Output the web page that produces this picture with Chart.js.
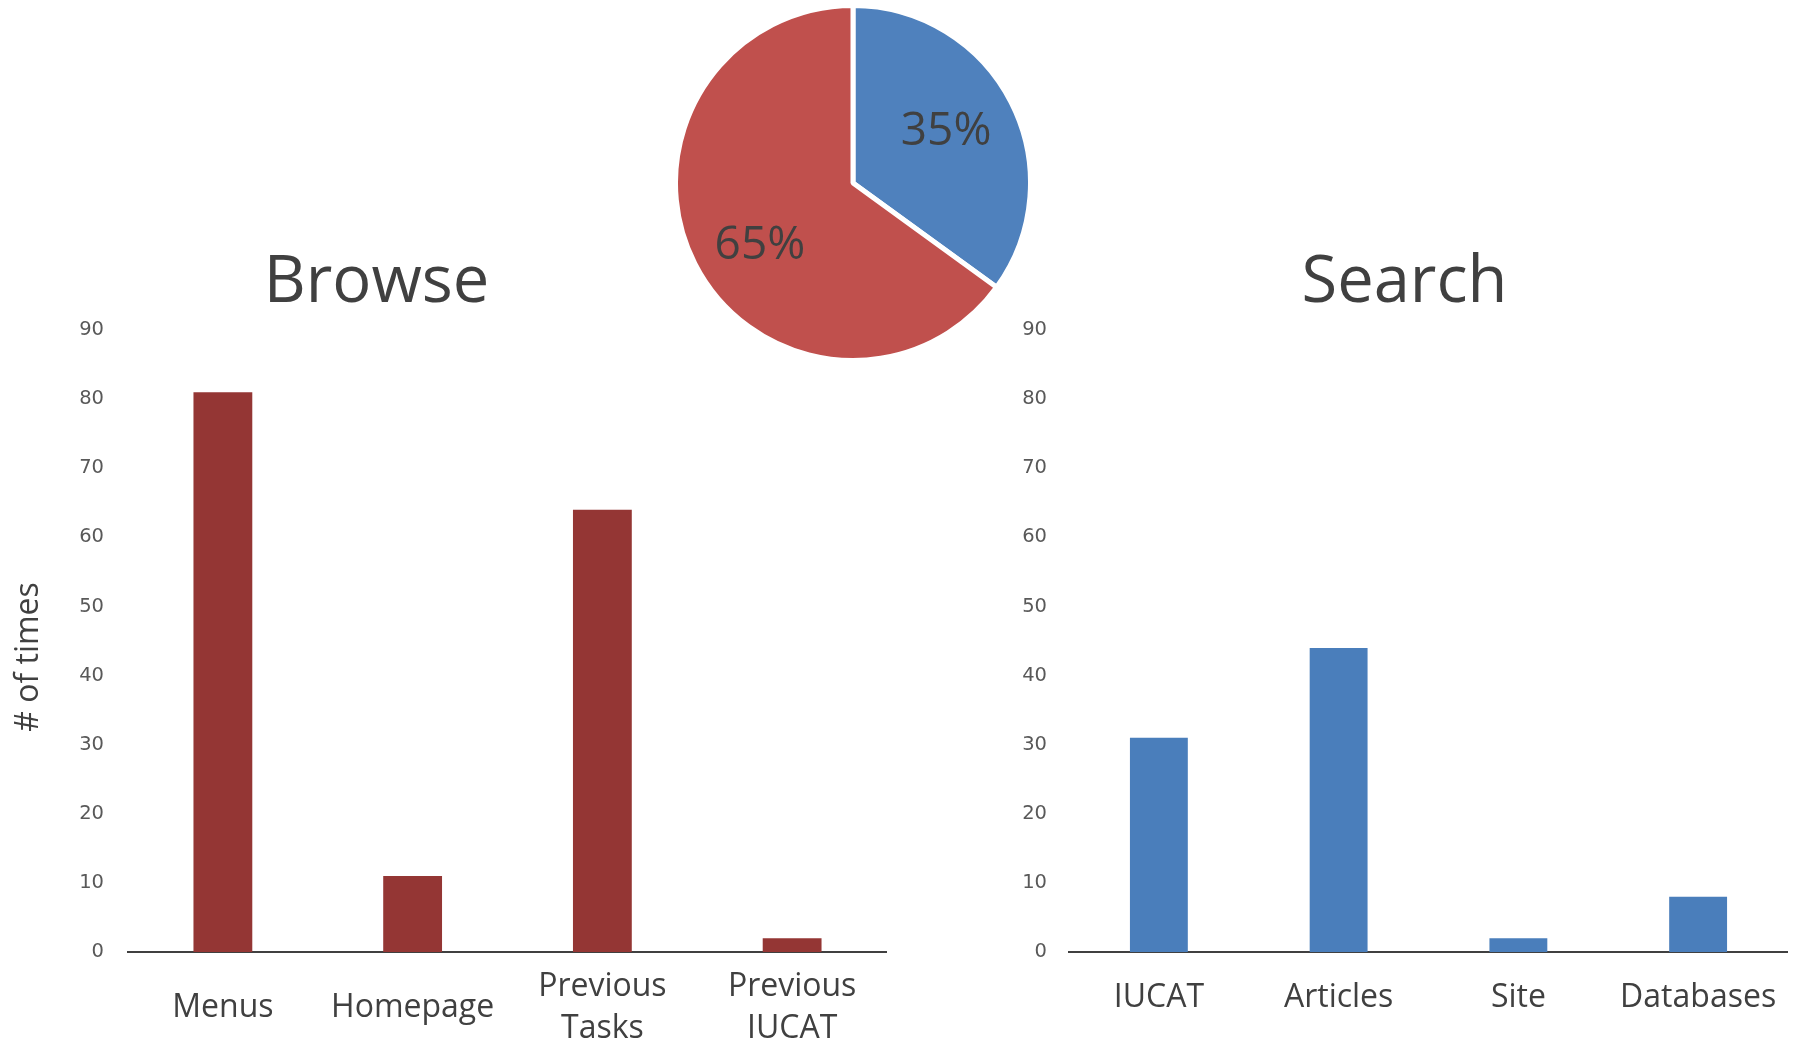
<!DOCTYPE html>
<html><head><meta charset="utf-8">
<script src="https://cdn.jsdelivr.net/npm/chart.js@4.4.1/dist/chart.umd.min.js"></script>
<style>
html,body{margin:0;padding:0;background:#fff;width:1806px;height:1047px;overflow:hidden;position:relative;}
canvas{position:absolute;}
</style></head><body>
<canvas id="browse" width="1021" height="1047" style="left:-134px;top:0"></canvas>
<canvas id="search" width="767" height="1047" style="left:1021px;top:0"></canvas>
<canvas id="pie" width="360" height="360" style="left:673px;top:3px"></canvas>
<script>
// ---- data ----
const browseCategories = ['Menus', 'Homepage', ['Previous', 'Tasks'], ['Previous', 'IUCAT']];
const browseValues = [81, 11, 64, 2];
const searchCategories = ['IUCAT', 'Articles', 'Site', 'Databases'];
const searchValues = [31, 44, 2, 8];
const pieLabels = ['Search', 'Browse'];
const pieValues = [35, 65];
const yAxisMin = 0, yAxisMax = 90, yAxisStep = 10;
const browseTitle = 'Browse';
const searchTitle = 'Search';
const yAxisTitle = '# of times';

const FONT = '"Open Sans", "Noto Sans", sans-serif';
const TICKFONT = '"DejaVu Sans", Verdana, sans-serif';
const TEXT = '#404040';

const yTitlePlugin = {
  id: 'ytitle',
  afterDraw(chart, args, opts) {
    if (!opts || !opts.text) return;
    const ctx = chart.ctx;
    ctx.save();
    ctx.translate(opts.x, opts.y);
    ctx.rotate(-Math.PI / 2);
    ctx.font = '32px ' + FONT;
    ctx.fillStyle = TEXT;
    ctx.textAlign = 'center';
    ctx.textBaseline = 'middle';
    ctx.fillText(opts.text, 0, 0);
    ctx.restore();
  }
};

function barChart(id, labels, values, color, o) {
  return new Chart(document.getElementById(id), {
    type: 'bar',
    data: {
      labels: labels,
      datasets: [{ data: values, backgroundColor: color, barPercentage: o.barPct, categoryPercentage: 1 }]
    },
    options: {
      responsive: false,
      animation: false,
      layout: { padding: { top: 244, left: 0, right: 0, bottom: 0 } },
      plugins: {
        legend: { display: false },
        tooltip: { enabled: false },
        title: {
          display: true, text: o.title, color: TEXT,
          font: { family: FONT, size: 65, weight: 'normal', lineHeight: 1.2 },
          padding: { top: 0, bottom: 8 }
        },
        ytitle: o.ytitle || {}
      },
      scales: {
        x: {
          grid: { display: false, drawTicks: false },
          border: { display: true, color: '#404040', width: 2 },
          ticks: {
            color: TEXT, font: { family: FONT, size: 32, lineHeight: 1.3 }, padding: o.xPad,
            crossAlign: o.cross, maxRotation: 0, minRotation: 0, autoSkip: false
          },
          afterFit(s) { s.height = 95; s.paddingLeft = 0; s.paddingRight = 0; }
        },
        y: {
          min: yAxisMin, max: yAxisMax,
          grid: { display: false, drawTicks: false },
          border: { display: false },
          ticks: { stepSize: yAxisStep, color: '#595959', font: { family: TICKFONT, size: 19.5 }, padding: o.yPad },
          afterFit(s) { s.width = o.yW; }
        }
      }
    },
    plugins: [yTitlePlugin]
  });
}

barChart('browse', browseCategories, browseValues, '#943634', {
  title: browseTitle, barPct: 0.31, xPad: 35, cross: 'center', yPad: 24, yW: 262,
  ytitle: { text: yAxisTitle, x: 163, y: 657 }
});
barChart('search', searchCategories, searchValues, '#4A7EBB', {
  title: searchTitle, barPct: 0.322, xPad: 25, cross: 'near', yPad: 22, yW: 48
});

const pieLabelPlugin = {
  id: 'pielabels',
  afterDatasetsDraw(chart) {
    const ctx = chart.ctx;
    const meta = chart.getDatasetMeta(0);
    const data = chart.data.datasets[0].data;
    const total = data.reduce((a, b) => a + b, 0);
    ctx.save();
    ctx.font = '46px ' + FONT;
    ctx.fillStyle = TEXT;
    ctx.textAlign = 'center';
    ctx.textBaseline = 'middle';
    meta.data.forEach((arc, i) => {
      const p = arc.getProps(['x', 'y', 'startAngle', 'endAngle', 'outerRadius'], true);
      const mid = (p.startAngle + p.endAngle) / 2 - 0.078;
      const r = p.outerRadius * 0.615;
      ctx.fillText(Math.round(data[i] / total * 100) + '%', p.x + Math.cos(mid) * r, p.y + Math.sin(mid) * r + 6);
    });
    ctx.restore();
  }
};

new Chart(document.getElementById('pie'), {
  type: 'pie',
  data: {
    labels: pieLabels,
    datasets: [{ data: pieValues, backgroundColor: ['#4F81BD', '#C0504D'], borderColor: '#ffffff', borderWidth: 5 }]
  },
  options: {
    responsive: false,
    animation: false,
    plugins: { legend: { display: false }, tooltip: { enabled: false } }
  },
  plugins: [pieLabelPlugin]
});
</script>
</body></html>
